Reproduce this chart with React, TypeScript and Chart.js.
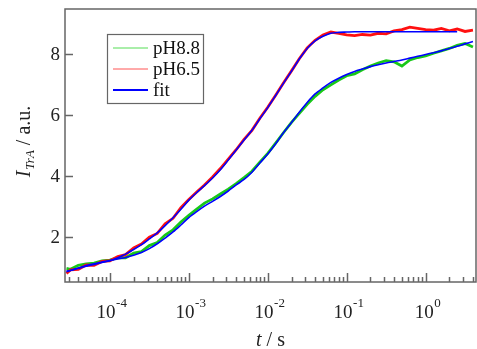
import { useEffect, useRef } from 'react';
import { Chart, registerables } from 'chart.js';
Chart.register(...registerables);

// time axis (s), one point per tenth of a decade
const times = [
  2.82e-5, 3.16e-5, 3.98e-5, 5.01e-5, 6.31e-5, 7.94e-5,
  1e-4, 1.26e-4, 1.58e-4, 2.0e-4, 2.51e-4, 3.16e-4, 3.98e-4, 5.01e-4, 6.31e-4, 7.94e-4,
  1e-3, 1.26e-3, 1.58e-3, 2.0e-3, 2.51e-3, 3.16e-3, 3.98e-3, 5.01e-3, 6.31e-3, 7.94e-3,
  1e-2, 1.26e-2, 1.58e-2, 2.0e-2, 2.51e-2, 3.16e-2, 3.98e-2, 5.01e-2, 6.31e-2, 7.94e-2,
  0.1, 0.126, 0.158, 0.2, 0.251, 0.316, 0.398, 0.501, 0.631, 0.794,
  1, 1.26, 1.58, 2.0, 2.51, 3.16, 3.98,
];

const ph88Data = [
  0.95, 0.92, 1.05, 1.1, 1.12, 1.2, 1.22, 1.3, 1.3, 1.45,
  1.5, 1.7, 1.8, 2.05, 2.22, 2.48, 2.7, 2.9, 3.1, 3.24,
  3.4, 3.56, 3.74, 3.94, 4.15, 4.45, 4.74, 5.08, 5.42, 5.76,
  6.06, 6.36, 6.62, 6.84, 7.0, 7.16, 7.3, 7.36, 7.5, 7.62,
  7.72, 7.8, 7.76, 7.62, 7.82, 7.9, 7.95, 8.04, 8.12, 8.2,
  8.3, 8.36, 8.25,
];

const ph65Data = [
  0.78, 0.9, 0.92, 1.06, 1.05, 1.18, 1.2, 1.34, 1.4, 1.62,
  1.75, 1.98, 2.1, 2.42, 2.6, 2.95, 3.22, 3.47, 3.7, 3.96,
  4.24, 4.55, 4.86, 5.2, 5.5, 5.9, 6.26, 6.66, 7.06, 7.46,
  7.86, 8.22, 8.47, 8.64, 8.74, 8.7, 8.65, 8.62, 8.66, 8.64,
  8.7, 8.68, 8.78, 8.82, 8.9, 8.86, 8.82, 8.8, 8.86, 8.78,
  8.84, 8.76, 8.8,
];

const ph88Fit = [
  0.85, 0.88, 0.96, 1.04, 1.1, 1.16, 1.21, 1.26, 1.31, 1.38,
  1.47, 1.6, 1.76, 1.95, 2.15, 2.38, 2.62, 2.82, 3.0, 3.16,
  3.32, 3.5, 3.7, 3.88, 4.12, 4.42, 4.72, 5.06, 5.42, 5.76,
  6.1, 6.42, 6.7, 6.9, 7.08, 7.22, 7.34, 7.44, 7.52, 7.6,
  7.66, 7.72, 7.77, 7.82, 7.88, 7.94, 8.0, 8.06, 8.12, 8.2,
  8.27, 8.35, 8.43,
];

const ph65Fit = [
  0.85, 0.88, 0.95, 1.02, 1.08, 1.14, 1.2, 1.3, 1.42, 1.57,
  1.73, 1.92, 2.12, 2.36, 2.62, 2.9, 3.2, 3.45, 3.68, 3.93,
  4.2, 4.52, 4.85, 5.18, 5.5, 5.88, 6.25, 6.65, 7.05, 7.45,
  7.85, 8.2, 8.45, 8.6, 8.7, 8.73, 8.74, 8.75, 8.75, 8.75,
  8.75, 8.75, 8.75, 8.75, 8.75, 8.75, 8.75, 8.75, 8.75, 8.75,
  8.75, null, null,
];

const yTicks = [2, 4, 6, 8];
const xMajor = [1e-4, 1e-3, 1e-2, 1e-1, 1];
const xMajorExp = ['-4', '-3', '-2', '-1', '0'];
const legendLabels = ['pH8.8', 'pH6.5', 'fit'];
const legendColors = ['#55dd55', '#ff5555', '#0000ff'];
const legendWidths = [1, 1, 2];

const X_MIN = 2.7e-5;
const X_MAX = 4.35;
const Y_MIN = 0.5;
const Y_MAX = 9.5;

const SERIF = '"Liberation Serif", "Times New Roman", serif';

function pts(vals: (number | null)[]) {
  return vals.map((v, i) => ({ x: times[i], y: v }));
}

const decorPlugin = {
  id: 'decor',
  afterDraw(chart: any) {
    const { ctx, chartArea: a, scales } = chart;
    const xs = scales.x;
    const ys = scales.y;
    ctx.save();
    // frame
    ctx.strokeStyle = '#666';
    ctx.lineWidth = 1.5;
    ctx.strokeRect(a.left, a.top, a.right - a.left, a.bottom - a.top);

    // y ticks + labels
    ctx.fillStyle = '#222';
    ctx.font = `19px ${SERIF}`;
    ctx.textAlign = 'right';
    ctx.textBaseline = 'middle';
    for (const v of yTicks) {
      const py = Math.round(ys.getPixelForValue(v)) + 0.5;
      ctx.beginPath();
      ctx.moveTo(a.left, py);
      ctx.lineTo(a.left + 8, py);
      ctx.stroke();
      ctx.fillText(String(v), a.left - 5, py + 1);
    }

    // x ticks
    const minor: number[] = [];
    for (let e = -5; e <= 0; e++) {
      for (let m = 2; m <= 9; m++) {
        const v = m * Math.pow(10, e);
        if (v > X_MIN && v < X_MAX) minor.push(v);
      }
    }
    for (const v of minor) {
      const px = Math.round(xs.getPixelForValue(v)) + 0.5;
      ctx.beginPath();
      ctx.moveTo(px, a.bottom);
      ctx.lineTo(px, a.bottom - 5);
      ctx.stroke();
    }
    xMajor.forEach((v, i) => {
      const px = Math.round(xs.getPixelForValue(v)) + 0.5;
      ctx.beginPath();
      ctx.moveTo(px, a.bottom);
      ctx.lineTo(px, a.bottom - 9);
      ctx.stroke();
      ctx.textAlign = 'left';
      ctx.textBaseline = 'alphabetic';
      ctx.font = `19px ${SERIF}`;
      const w10 = ctx.measureText('10').width;
      ctx.font = `13px ${SERIF}`;
      const ws = ctx.measureText(xMajorExp[i]).width;
      const start = px - (w10 + ws) / 2 + 1;
      ctx.font = `19px ${SERIF}`;
      ctx.fillText('10', start, 318);
      ctx.font = `13px ${SERIF}`;
      ctx.fillText(xMajorExp[i], start + w10 + 0.5, 307);
    });

    // x title
    {
      ctx.textBaseline = 'alphabetic';
      ctx.textAlign = 'left';
      ctx.font = `italic 20px ${SERIF}`;
      const wt = ctx.measureText('t').width;
      ctx.font = `20px ${SERIF}`;
      const wr = ctx.measureText(' / s').width;
      const cx = (a.left + a.right) / 2;
      const s = cx - (wt + wr) / 2;
      ctx.font = `italic 20px ${SERIF}`;
      ctx.fillText('t', s, 346);
      ctx.font = `20px ${SERIF}`;
      ctx.fillText(' / s', s + wt, 346);
    }

    // y title
    {
      ctx.save();
      ctx.translate(30, 142);
      ctx.rotate(-Math.PI / 2);
      ctx.textAlign = 'left';
      ctx.textBaseline = 'alphabetic';
      ctx.font = `italic 20px ${SERIF}`;
      const wI = ctx.measureText('I').width;
      ctx.font = `italic 13px ${SERIF}`;
      const wSub = ctx.measureText('TrA').width;
      ctx.font = `20px ${SERIF}`;
      const wRest = ctx.measureText(' / a.u.').width;
      let s = -(wI + wSub + wRest) / 2;
      ctx.font = `italic 20px ${SERIF}`;
      ctx.fillText('I', s, 0);
      s += wI + 1;
      ctx.font = `italic 13px ${SERIF}`;
      ctx.fillText('TrA', s, 4);
      s += wSub;
      ctx.font = `20px ${SERIF}`;
      ctx.fillText(' / a.u.', s, 0);
      ctx.restore();
    }

    // legend
    ctx.fillStyle = '#fff';
    ctx.fillRect(107.5, 34.5, 96, 69);
    ctx.strokeStyle = '#666';
    ctx.lineWidth = 1.2;
    ctx.strokeRect(107.5, 34.5, 96, 69);
    ctx.font = `19px ${SERIF}`;
    ctx.textAlign = 'left';
    ctx.textBaseline = 'middle';
    legendLabels.forEach((lab, i) => {
      const ly = 48 + i * 21;
      ctx.strokeStyle = legendColors[i];
      ctx.lineWidth = legendWidths[i];
      ctx.beginPath();
      ctx.moveTo(113, ly);
      ctx.lineTo(148, ly);
      ctx.stroke();
      ctx.fillStyle = '#111';
      ctx.fillText(lab, 153, ly + 1);
    });
    ctx.restore();
  },
};

export default function App() {
  const ref = useRef<HTMLCanvasElement>(null);
  useEffect(() => {
    document.body.style.margin = '0';
    const chart = new Chart(ref.current as HTMLCanvasElement, {
      type: 'line',
      data: {
        datasets: [
          { label: 'fit', data: pts(ph65Fit), borderColor: '#0000ff', borderWidth: 1.6, pointRadius: 0, tension: 0.3, spanGaps: false },
          { label: 'fit', data: pts(ph88Fit), borderColor: '#0000ff', borderWidth: 1.6, pointRadius: 0, tension: 0.3 },
          { label: 'pH6.5', data: pts(ph65Data), borderColor: '#ff1010', borderWidth: 2.8, pointRadius: 0, tension: 0 },
          { label: 'pH8.8', data: pts(ph88Data), borderColor: '#18c818', borderWidth: 2.8, pointRadius: 0, tension: 0 },
        ],
      },
      options: {
        animation: false,
        responsive: false,
        layout: { padding: { left: 65, right: 1, top: 9, bottom: 67 } },
        scales: {
          x: { type: 'logarithmic', min: X_MIN, max: X_MAX, display: false },
          y: { type: 'linear', min: Y_MIN, max: Y_MAX, display: false },
        },
        plugins: { legend: { display: false }, tooltip: { enabled: false } },
        elements: { point: { radius: 0 } },
      },
      plugins: [decorPlugin],
    } as any);
    return () => chart.destroy();
  }, []);
  return (
    <div style={{ position: 'fixed', left: 0, top: 0, width: 477, height: 349, background: '#fff' }}>
      <canvas ref={ref} width={477} height={349} style={{ display: 'block' }} />
    </div>
  );
}
